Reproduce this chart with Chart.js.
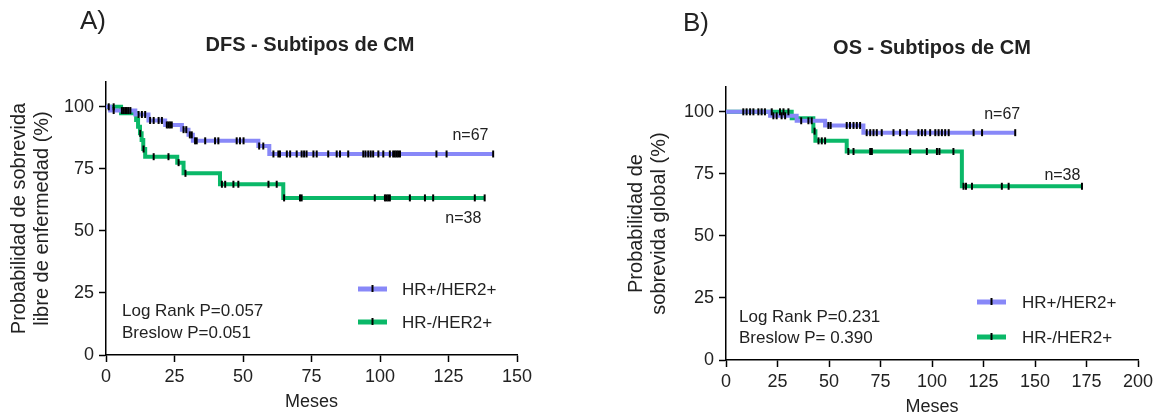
<!DOCTYPE html>
<html><head><meta charset="utf-8">
<script src="https://cdn.jsdelivr.net/npm/chart.js@4.4.0/dist/chart.umd.min.js"></script>
<style>
html,body{margin:0;padding:0;background:#fff;}
#wrap{position:relative;width:1158px;height:416px;overflow:hidden;}
#c1{position:absolute;left:0;top:0;width:580px;height:416px;}
#c2{position:absolute;left:580px;top:0;width:578px;height:416px;}
</style></head><body>
<div id="wrap"><canvas id="c1" width="580" height="416"></canvas><canvas id="c2" width="578" height="416"></canvas></div>
<script>
// ---------- DATA ----------
const seriesNames = ['HR+/HER2+', 'HR-/HER2+'];
const yTicks = [0, 25, 50, 75, 100];
const xTicksDFS = [0, 25, 50, 75, 100, 125, 150];
const xTicksOS = [0, 25, 50, 75, 100, 125, 150, 175, 200];

// DFS (panel A) – Kaplan-Meier steps (months, % survival)
const dfsPosTimes = [0, 1.5, 10.7, 15.5, 21.6, 27.7, 30.1, 31.7, 55.6, 59.6, 141.3];
const dfsPosSurv  = [100, 98.5, 96.9, 94.5, 92.7, 90.8, 88.7, 86.3, 84.2, 81.0, 81.0];
const dfsPosCensor = [1.0, 2.8, 5.8, 6.4, 7.0, 7.6, 8.2, 8.9, 11.9, 13.1, 14.3, 16.1, 17.4, 19.2, 20.4, 22.2, 22.8, 23.4, 24.0, 28.3, 29.3, 30.6, 31.3, 32.5, 33.1, 36.2, 39.8, 41.0, 47.7, 48.9, 50.2, 55.9, 57.4, 61.1, 62.9, 63.5, 66.0, 67.2, 69.6, 71.4, 72.3, 73.2, 75.7, 76.9, 81.1, 84.2, 85.4, 88.4, 93.9, 94.7, 95.7, 96.6, 97.5, 99.4, 101.2, 103.6, 104.8, 105.4, 106.0, 106.6, 107.3, 120.6, 124.3, 141.3];
const dfsNegTimes = [0, 5.5, 11.0, 11.7, 12.4, 13.0, 13.6, 14.3, 26.0, 28.3, 41.6, 64.7, 138.2];
const dfsNegSurv  = [100, 97.4, 94.7, 92.0, 89.3, 86.6, 83.0, 79.9, 77.5, 73.2, 68.8, 63.3, 63.3];
const dfsNegCensor = [2.8, 12.5, 13.7, 17.4, 22.8, 26.5, 29.0, 42.3, 43.5, 46.5, 48.3, 59.3, 62.3, 65.0, 70.8, 71.4, 98.1, 101.8, 102.4, 103.0, 103.6, 110.9, 116.4, 119.4, 134.6, 138.2];

// OS (panel B)
const osPosTimes = [0, 21.4, 34.3, 48.1, 66.7, 140.4];
const osPosSurv  = [100, 98.4, 96.4, 94.5, 91.6, 91.6];
const osPosCensor = [8.4, 10.0, 11.7, 13.3, 15.7, 17.3, 18.9, 23.0, 24.6, 27.0, 28.7, 36.5, 40.0, 41.6, 49.7, 50.8, 58.6, 60.2, 61.9, 63.5, 65.1, 68.3, 70.0, 71.6, 73.2, 75.6, 81.3, 84.5, 87.8, 93.4, 95.1, 96.7, 99.1, 101.6, 103.2, 104.8, 106.4, 108.1, 120.2, 124.3, 140.4];
const osNegTimes = [0, 31.9, 42.4, 43.4, 58.6, 114.5, 172.8];
const osNegSurv  = [100, 97.4, 92.2, 88.3, 84.0, 70.0, 70.0];
const osNegCensor = [22.2, 26.2, 27.9, 30.3, 43.0, 44.9, 46.5, 48.1, 59.4, 61.9, 70.0, 70.8, 89.4, 97.5, 102.4, 103.6, 110.4, 115.3, 116.5, 119.4, 133.9, 137.2, 172.8];

const dfsStats = ['Log Rank P=0.057', 'Breslow P=0.051'];
const osStats = ['Log Rank P=0.231', 'Breslow P= 0.390'];
const nLabels = ['n=67', 'n=38'];

// ---------- STYLE ----------
const FONT = "'Liberation Sans', Arial, Helvetica, sans-serif";
const BLUE = 'rgb(136,136,248)';
const GREEN = 'rgb(10,184,104)';
const TXT = '#222';

function stepPoints(times, surv) { return times.map((t, i) => ({x: t, y: surv[i]})); }
function survAt(times, surv, t) { let v = surv[0]; for (let i = 0; i < times.length; i++) { if (times[i] <= t) v = surv[i]; } return v; }
function censorPoints(times, surv, cens) { return cens.map(t => ({x: t, y: survAt(times, surv, t)})); }

const overlay = {
  id: 'overlay',
  afterDraw(chart, args, o) {
    const ctx = chart.ctx; const xs = chart.scales.x, ys = chart.scales.y;
    ctx.save();
    ctx.fillStyle = TXT; ctx.textBaseline = 'middle';
    ctx.font = `26px ${FONT}`; ctx.textAlign = 'left';
    ctx.fillText(o.letter, o.letterX, o.letterY);
    ctx.font = `bold 20px ${FONT}`; ctx.textAlign = 'center';
    ctx.fillText(o.title, o.titleX, o.titleY);
    ctx.font = `16px ${FONT}`; ctx.textAlign = 'center';
    o.nPos.forEach((p, i) => ctx.fillText(nLabels[i], xs.getPixelForValue(p[0]), ys.getPixelForValue(p[1])));
    ctx.font = `17px ${FONT}`; ctx.textAlign = 'left';
    o.stats.forEach((s, i) => ctx.fillText(s, o.statsX, o.statsY[i]));
    [BLUE, GREEN].forEach((c, i) => {
      const ly = o.legY[i];
      ctx.strokeStyle = c; ctx.lineWidth = 5; ctx.beginPath();
      ctx.moveTo(o.legX, ly); ctx.lineTo(o.legX + 29, ly); ctx.stroke();
      ctx.strokeStyle = '#000'; ctx.lineWidth = 2; ctx.beginPath();
      ctx.moveTo(o.legX + 14.5, ly - 4); ctx.lineTo(o.legX + 14.5, ly + 3); ctx.stroke();
      ctx.fillStyle = TXT; ctx.fillText(seriesNames[i], o.legTextX, ly + 1);
    });
    ctx.restore();
  }
};

function makeChart(el, cfg) {
  const ds = [
    {type: 'line', label: seriesNames[0], data: stepPoints(cfg.posT, cfg.posS), borderColor: BLUE, borderWidth: 4, stepped: true, pointRadius: 0, fill: false, order: 2},
    {type: 'line', label: seriesNames[1], data: stepPoints(cfg.negT, cfg.negS), borderColor: GREEN, borderWidth: 4, stepped: true, pointRadius: 0, fill: false, order: 3},
    {type: 'scatter', label: 'c1', data: censorPoints(cfg.posT, cfg.posS, cfg.posC), pointStyle: 'line', pointRotation: 90, pointRadius: 3.5, pointBorderWidth: 2, pointBorderColor: '#000', borderColor: '#000', showLine: false, order: 0},
    {type: 'scatter', label: 'c2', data: censorPoints(cfg.negT, cfg.negS, cfg.negC), pointStyle: 'line', pointRotation: 90, pointRadius: 3.5, pointBorderWidth: 2, pointBorderColor: '#000', borderColor: '#000', showLine: false, order: 1}
  ];
  return new Chart(el, {
    data: {datasets: ds},
    options: {
      responsive: false, animation: false, devicePixelRatio: 1,
      layout: {padding: {left: 0, right: cfg.padRight, top: cfg.padTop, bottom: 0}},
      plugins: {legend: {display: false}, tooltip: {enabled: false}, overlay: cfg.overlay},
      scales: {
        x: {
          type: 'linear', min: 0, max: cfg.xMax,
          afterBuildTicks: s => { s.ticks = cfg.xTicks.map(v => ({value: v})); },
          afterFit: s => { s.height = cfg.xH; },
          grid: {display: true, drawOnChartArea: false, drawTicks: true, tickLength: 7, tickWidth: 1.5, tickColor: '#000'},
          border: {display: true, color: '#000', width: 1.5},
          ticks: {color: TXT, font: {family: FONT, size: 18}, padding: 4, maxRotation: 0, autoSkip: false},
          title: {display: true, text: 'Meses', color: TXT, font: {family: FONT, size: 18, lineHeight: 1}, padding: {top: 0, bottom: cfg.xTitlePad}}
        },
        y: {
          type: 'linear', min: 0, max: 110,
          afterBuildTicks: s => { s.ticks = yTicks.map(v => ({value: v})); },
          afterFit: s => { s.width = cfg.yW; },
          grid: {display: true, drawOnChartArea: false, drawTicks: true, tickLength: 7, tickWidth: 1.5, tickColor: '#000'},
          border: {display: true, color: '#000', width: 1.5},
          ticks: {color: TXT, font: {family: FONT, size: 18}, padding: 5},
          title: {display: true, text: cfg.yTitle, color: TXT, font: {family: FONT, size: 20, lineHeight: 1.15}, padding: {top: cfg.yTitlePad, bottom: 0}}
        }
      }
    },
    plugins: [overlay]
  });
}

makeChart(document.getElementById('c1'), {
  posT: dfsPosTimes, posS: dfsPosSurv, posC: dfsPosCensor,
  negT: dfsNegTimes, negS: dfsNegSurv, negC: dfsNegCensor,
  xMax: 150, xTicks: xTicksDFS, xH: 61, yW: 106, padRight: 63, padTop: 82,
  xTitlePad: 5, yTitlePad: 7.5,
  yTitle: ['Probabilidad de sobrevida', 'libre de enfermedad (%)'],
  overlay: {letter: 'A)', letterX: 80, letterY: 22, title: 'DFS - Subtipos de CM', titleX: 310, titleY: 45,
    nPos: [[133, 88.6], [130.4, 54.8]], stats: dfsStats, statsX: 122, statsY: [311, 333],
    legX: 358, legY: [289, 322], legTextX: 402}
});

makeChart(document.getElementById('c2'), {
  posT: osPosTimes, posS: osPosSurv, posC: osPosCensor,
  negT: osNegTimes, negS: osNegSurv, negC: osNegCensor,
  xMax: 200, xTicks: xTicksOS, xH: 56, yW: 146, padRight: 20, padTop: 87,
  xTitlePad: 0, yTitlePad: 44.5,
  yTitle: ['Probabilidad de', 'sobrevida global (%)'],
  overlay: {letter: 'B)', letterX: 103, letterY: 24, title: 'OS - Subtipos de CM', titleX: 352, titleY: 48,
    nPos: [[134.1, 98.7], [163.3, 74.5]], stats: osStats, statsX: 159, statsY: [317, 338],
    legX: 397, legY: [302, 337], legTextX: 442}
});
</script>
</body></html>
